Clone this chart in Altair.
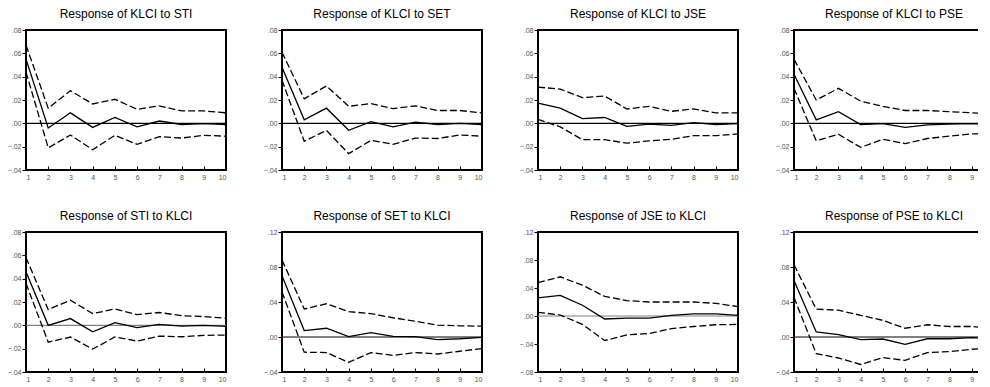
import altair as alt
import pandas as pd

steps = [1, 2, 3, 4, 5, 6, 7, 8, 9, 10]

titles = [
    "Response of KLCI to STI", "Response of KLCI to SET",
    "Response of KLCI to JSE", "Response of KLCI to PSE",
    "Response of STI to KLCI", "Response of SET to KLCI",
    "Response of JSE to KLCI", "Response of PSE to KLCI",
]

# Row 1
klci_sti_resp = [0.055, -0.004, 0.009, -0.0035, 0.005, -0.003, 0.002, -0.001, -0.0003, -0.001]
klci_sti_up = [0.067, 0.013, 0.028, 0.0166, 0.0206, 0.012, 0.015, 0.0106, 0.0106, 0.009]
klci_sti_lo = [0.044, -0.021, -0.010, -0.0226, -0.0103, -0.018, -0.0114, -0.0126, -0.0103, -0.011]

klci_set_resp = [0.048, 0.003, 0.013, -0.006, 0.0014, -0.003, 0.001, -0.001, 0.0, -0.001]
klci_set_up = [0.061, 0.021, 0.032, 0.0146, 0.0169, 0.0126, 0.015, 0.011, 0.011, 0.009]
klci_set_lo = [0.037, -0.0154, -0.006, -0.026, -0.0146, -0.018, -0.0126, -0.013, -0.010, -0.011]

klci_jse_resp = [0.0174, 0.013, 0.004, 0.005, -0.0026, -0.0006, -0.0017, 0.0006, -0.001, -0.0003]
klci_jse_up = [0.031, 0.0294, 0.022, 0.0234, 0.0123, 0.0146, 0.0103, 0.0123, 0.009, 0.009]
klci_jse_lo = [0.0034, -0.003, -0.014, -0.014, -0.017, -0.015, -0.0137, -0.0106, -0.0106, -0.009]

klci_pse_resp = [0.042, 0.003, 0.010, -0.001, -0.0003, -0.0034, -0.0014, -0.0006, -0.0003, -0.0006]
klci_pse_up = [0.055, 0.020, 0.030, 0.019, 0.0146, 0.011, 0.011, 0.010, 0.009, 0.008]
klci_pse_lo = [0.030, -0.015, -0.0094, -0.0206, -0.0137, -0.0174, -0.013, -0.011, -0.009, -0.009]

# Row 2
sti_klci_resp = [0.046, 0.000, 0.0058, -0.0055, 0.0023, -0.002, 0.0009, -0.0006, 0.0, -0.0009]
sti_klci_up = [0.058, 0.0135, 0.0216, 0.010, 0.014, 0.0092, 0.011, 0.0083, 0.0075, 0.006]
sti_klci_lo = [0.036, -0.0144, -0.010, -0.0204, -0.010, -0.0135, -0.0092, -0.0098, -0.0086, -0.0083]

set_klci_resp = [0.070, 0.0074, 0.010, 0.0004, 0.005, 0.0008, 0.0004, -0.003, -0.002, -0.0004]
set_klci_up = [0.088, 0.032, 0.038, 0.029, 0.0267, 0.022, 0.018, 0.0136, 0.0128, 0.0124]
set_klci_lo = [0.0516, -0.0174, -0.0178, -0.029, -0.0178, -0.021, -0.0178, -0.0194, -0.0163, -0.0132]

jse_klci_resp = [0.026, 0.0294, 0.0154, -0.0043, -0.003, -0.003, 0.001, 0.003, 0.003, 0.001]
jse_klci_up = [0.0477, 0.056, 0.044, 0.028, 0.022, 0.020, 0.020, 0.020, 0.018, 0.0135]
jse_klci_lo = [0.0053, 0.0014, -0.012, -0.035, -0.027, -0.025, -0.018, -0.015, -0.0125, -0.012]

pse_klci_resp = [0.0647, 0.0058, 0.0027, -0.003, -0.0023, -0.0085, -0.002, -0.002, -0.0008, -0.0016]
pse_klci_up = [0.0826, 0.0318, 0.0306, 0.0248, 0.019, 0.010, 0.014, 0.012, 0.012, 0.0097]
pse_klci_lo = [0.0453, -0.019, -0.024, -0.0314, -0.0236, -0.0267, -0.0178, -0.0167, -0.014, -0.0124]

responses = [klci_sti_resp, klci_set_resp, klci_jse_resp, klci_pse_resp,
             sti_klci_resp, set_klci_resp, jse_klci_resp, pse_klci_resp]
uppers = [klci_sti_up, klci_set_up, klci_jse_up, klci_pse_up,
          sti_klci_up, set_klci_up, jse_klci_up, pse_klci_up]
lowers = [klci_sti_lo, klci_set_lo, klci_jse_lo, klci_pse_lo,
          sti_klci_lo, set_klci_lo, jse_klci_lo, pse_klci_lo]

y_domains = [[-0.04, 0.08]] * 5 + [[-0.04, 0.12], [-0.08, 0.12], [-0.04, 0.12]]
y_ticks = [[-0.04, -0.02, 0.0, 0.02, 0.04, 0.06, 0.08]] * 5 + [
    [-0.04, 0.0, 0.04, 0.08, 0.12],
    [-0.08, -0.04, 0.0, 0.04, 0.08, 0.12],
    [-0.04, 0.0, 0.04, 0.08, 0.12],
]
zero_colors = ["black", "black", "black", "black", "#808080", "black", "#808080", "black"]

PW, PH = 200, 140


def panel(i):
    resp = pd.DataFrame({"step": steps, "value": responses[i]})
    bands = pd.DataFrame({
        "step": steps * 2,
        "value": uppers[i] + lowers[i],
        "band": ["upper"] * 10 + ["lower"] * 10,
    })
    zero = pd.DataFrame({"value": [0.0]})
    x = alt.X("step:Q",
              scale=alt.Scale(domain=[1, 10], nice=False, zero=False),
              axis=alt.Axis(values=steps, format="d", title=None, offset=-4,
                            tickSize=4, labelPadding=3))
    y = alt.Y("value:Q",
              scale=alt.Scale(domain=y_domains[i], nice=False, zero=False),
              axis=alt.Axis(values=y_ticks[i], title=None, tickSize=4, labelPadding=1,
                            labelExpr="replace(format(datum.value, '.2f'), '0.', '.')"))
    zl = alt.Chart(zero).mark_rule(color=zero_colors[i], strokeWidth=1.2).encode(y=y)
    bl = alt.Chart(bands).mark_line(color="black", strokeWidth=1.3, strokeDash=[7, 3]).encode(
        x=x, y=y, detail="band:N")
    rl = alt.Chart(resp).mark_line(color="black", strokeWidth=1.3).encode(x=x, y=y)
    return alt.layer(zl, bl, rl).properties(
        width=PW, height=PH,
        title=alt.TitleParams(titles[i], offset=5, frame="group"),
    )


chart = alt.concat(
    *[panel(i) for i in range(8)],
    columns=4,
    spacing=alt.RowColnumber(row=62, column=56),
    bounds="flush",
).properties(
    padding={"left": -2, "top": -1, "right": -20, "bottom": 0}
).configure_view(
    stroke="black", strokeWidth=2
).configure_axis(
    domain=False, grid=False, labelFont="Liberation Sans", labelFontSize=7,
    labelColor="#555555", tickColor="black", tickWidth=1
).configure_title(
    font="Liberation Sans", fontSize=12, fontWeight="normal", color="black", anchor="middle"
)

chart.save("out.html", embed_options={"renderer": "svg", "actions": False})
